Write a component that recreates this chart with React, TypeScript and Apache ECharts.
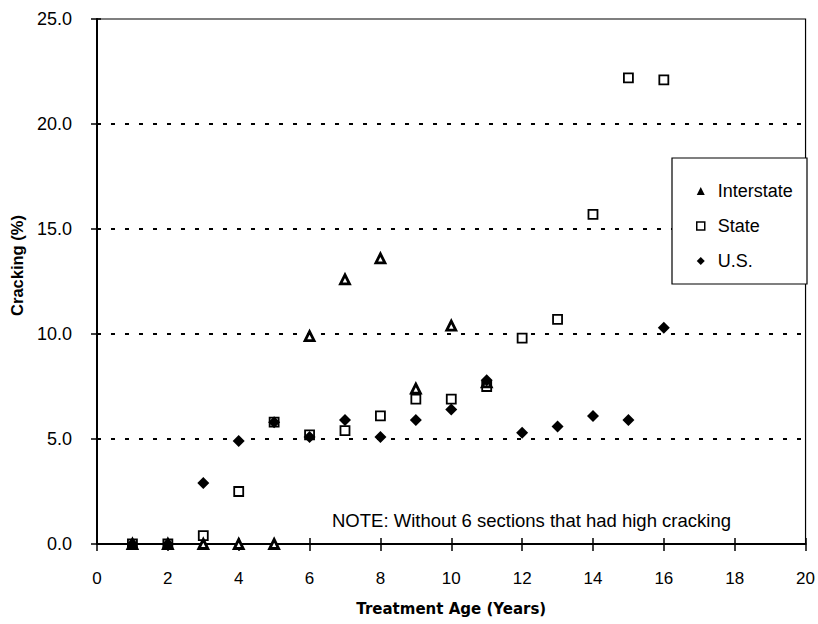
import React, { useEffect, useRef } from "react";
import * as echarts from "echarts";

const years = [1, 2, 3, 4, 5, 6, 7, 8, 9, 10, 11, 12, 13, 14, 15, 16];
const interstate: (number | null)[] = [0, 0, 0, 0, 0, 9.9, 12.6, 13.6, 7.4, 10.4, 7.7, null, null, null, null, null];
const state: (number | null)[] = [0, 0, 0.4, 2.5, 5.8, 5.2, 5.4, 6.1, 6.9, 6.9, 7.5, 9.8, 10.7, 15.7, 22.2, 22.1];
const us: (number | null)[] = [0, 0, 2.9, 4.9, 5.8, 5.1, 5.9, 5.1, 5.9, 6.4, 7.8, 5.3, 5.6, 6.1, 5.9, 10.3];
const gridValues = [5, 10, 15, 20];
const seriesNames = ["Interstate", "State", "U.S."];
const xTitle = "Treatment Age (Years)";
const yTitle = "Cracking (%)";
const note = "NOTE: Without 6 sections that had high cracking";

const FONT = "Liberation Sans, Arial, sans-serif";
const WIDE_BOLD = "DejaVu Sans, Verdana, sans-serif";

function pairs(vals: (number | null)[]) {
  const out: number[][] = [];
  years.forEach((x, i) => {
    const v = vals[i];
    if (v !== null && v !== undefined) out.push([x, v]);
  });
  return out;
}

export default function App() {
  const ref = useRef<HTMLDivElement>(null);
  useEffect(() => {
    document.body.style.margin = "0";
    const chart = echarts.init(ref.current!, null, { renderer: "svg" });
    const xCommon = {
      type: "value" as const,
      min: 0,
      max: 20,
      interval: 2,
      gridIndex: 0,
    };
    const yCommon = {
      type: "value" as const,
      min: 0,
      max: 25,
      interval: 5,
      gridIndex: 0,
    };
    chart.setOption({
      animation: false,
      backgroundColor: "#fff",
      grid: {
        left: 97,
        right: 12,
        top: 19,
        bottom: 80,
        show: true,
        borderColor: "#000",
        borderWidth: 1.2,
        backgroundColor: "transparent",
      },
      xAxis: [
        {
          ...xCommon,
          position: "bottom",
          name: xTitle,
          nameLocation: "middle",
          nameGap: 57,
          nameTextStyle: { fontFamily: WIDE_BOLD, fontWeight: "bold", fontSize: 15, color: "#000" },
          axisLine: { show: true, onZero: false, lineStyle: { color: "#000", width: 2 } },
          axisTick: { show: true, inside: false, length: 7, lineStyle: { color: "#000", width: 1.5 } },
          axisLabel: { fontFamily: FONT, fontSize: 17, color: "#000", margin: 26 },
          splitLine: { show: false },
        },
        {
          ...xCommon,
          position: "bottom",
          offset: 0,
          axisLine: { show: false },
          axisTick: { show: true, inside: true, length: 6, lineStyle: { color: "#000", width: 1.5 } },
          axisLabel: { show: false },
          splitLine: { show: false },
        },
      ],
      yAxis: [
        {
          ...yCommon,
          position: "left",
          name: yTitle,
          nameLocation: "middle",
          nameGap: 72,
          nameRotate: 90,
          nameTextStyle: {
            fontFamily: FONT,
            fontWeight: "bold",
            fontSize: 16.5,
            color: "#000",
            padding: [0, 0, 0, 32],
          },
          axisLine: { show: true, onZero: false, lineStyle: { color: "#000", width: 2 } },
          axisTick: { show: true, inside: false, length: 6, lineStyle: { color: "#000", width: 1.5 } },
          axisLabel: {
            fontFamily: FONT,
            fontSize: 18,
            color: "#000",
            margin: 25,
            formatter: (v: number) => v.toFixed(1),
          },
          splitLine: { show: false },
        },
        {
          ...yCommon,
          position: "left",
          offset: 0,
          axisLine: { show: false },
          axisTick: { show: true, inside: true, length: 4, lineStyle: { color: "#000", width: 1.5 } },
          axisLabel: { show: false },
          splitLine: { show: false },
        },
      ],
      legend: {
        orient: "vertical",
        left: 691,
        top: 177,
        itemWidth: 8,
        itemHeight: 8,
        itemGap: 17,
        z: 5,
        textStyle: { fontFamily: FONT, fontSize: 18, color: "#000", padding: [0, 0, 0, 8] },
        data: [
          { name: seriesNames[0], icon: "triangle", itemStyle: { color: "#000", borderWidth: 0 } },
          { name: seriesNames[1], icon: "rect", itemStyle: { color: "#fff", borderColor: "#000", borderWidth: 1.5 } },
          { name: seriesNames[2], icon: "diamond", itemStyle: { color: "#000", borderWidth: 0 } },
        ],
      },
      graphic: [
        {
          type: "rect",
          z: 3,
          shape: { x: 672, y: 158, width: 135, height: 126 },
          style: { fill: "#fff", stroke: "#000", lineWidth: 1.2 },
        },
        {
          type: "text",
          z: 3,
          left: 332,
          top: 511,
          style: { text: note, fontFamily: FONT, fontSize: 18.5, fill: "#000" },
        },
      ],
      series: [
        {
          name: seriesNames[1],
          type: "scatter",
          xAxisIndex: 0,
          yAxisIndex: 0,
          symbol: "rect",
          symbolSize: 9,
          itemStyle: { color: "#fff", borderColor: "#000", borderWidth: 1.8, opacity: 1 },
          data: pairs(state),
          z: 2,
          markLine: {
            silent: true,
            symbol: "none",
            z: 1,
            label: { show: false },
            lineStyle: { color: "#000", width: 1.8, type: [4, 10] },
            emphasis: { disabled: true },
            data: gridValues.map((v) => ({ yAxis: v })),
          },
        },
        {
          name: seriesNames[0],
          type: "scatter",
          xAxisIndex: 0,
          yAxisIndex: 0,
          symbol: "triangle",
          symbolSize: 9,
          itemStyle: { color: "#fff", borderColor: "#000", borderWidth: 2.8, opacity: 1 },
          data: pairs(interstate),
          z: 3,
        },
        {
          name: seriesNames[2],
          type: "scatter",
          xAxisIndex: 0,
          yAxisIndex: 0,
          symbol: "diamond",
          symbolSize: 12,
          itemStyle: { color: "#000", opacity: 1 },
          data: pairs(us),
          z: 4,
        },
      ],
    });
    return () => chart.dispose();
  }, []);
  return (
    <div
      ref={ref}
      style={{ position: "absolute", left: 0, top: 0, width: 818, height: 624 }}
    />
  );
}
